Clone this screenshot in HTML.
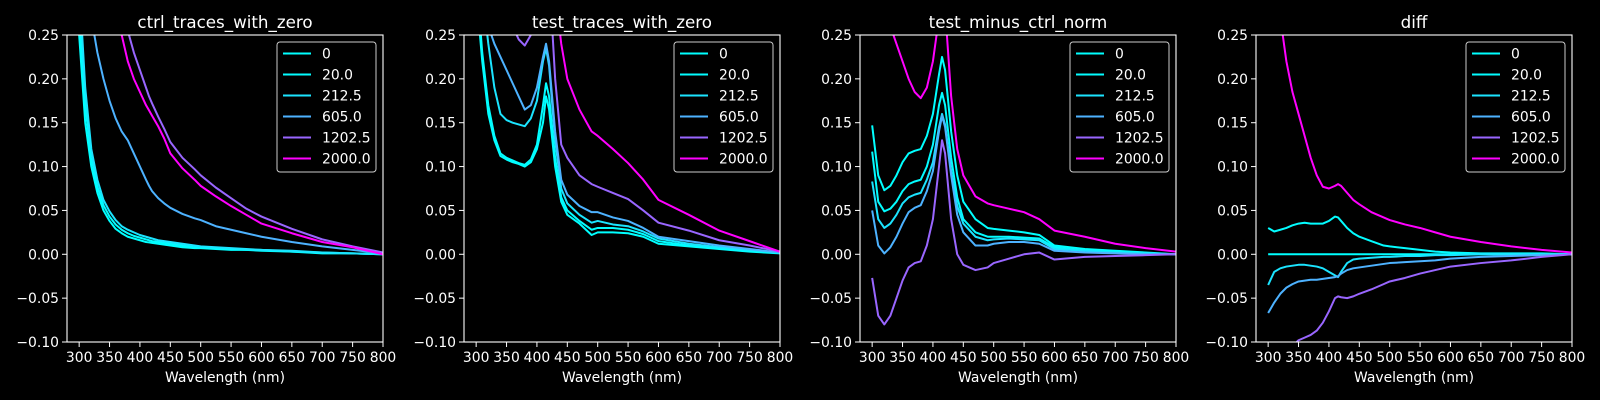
<!DOCTYPE html>
<html><head><meta charset="utf-8"><style>
html,body{margin:0;padding:0;background:#000;}
svg{display:block;font-family:"DejaVu Sans","Liberation Sans",sans-serif;}
</style></head><body>
<svg id="fig" width="1600" height="400" viewBox="0 0 1600 400" xmlns="http://www.w3.org/2000/svg">
<rect width="1600" height="400" fill="#000"/>
</svg>
<script>
const wavelengths=[300,310,320,330,340,350,360,370,380,390,400,410,415,420,430,440,450,470,490,500,525,550,575,600,650,700,750,800];
const seriesLabels=["0","20.0","212.5","605.0","1202.5","2000.0"];
const seriesColors=["#00ffff","#03fcff","#1be4ff","#4db2ff","#9966ff","#ff00ff"];
const panelTitles=["ctrl_traces_with_zero","test_traces_with_zero","test_minus_ctrl_norm","diff"];
const yTicks=[0.25,0.20,0.15,0.10,0.05,0.00,-0.05,-0.10];
const xTicks=[300,350,400,450,500,550,600,650,700,750,800];

const ctrl0=[.25,.15,.10,.07,.05,.038,.029,.024,.02,.018,.016,.014,.0135,.013,.012,.011,.01,.008,.007,.007,.006,.005,.005,.004,.003,.001,.001,0];
const ctrl20=[.28,.17,.11,.077,.056,.043,.034,.028,.024,.021,.019,.017,.016,.015,.014,.013,.012,.01,.008,.008,.007,.006,.005,.005,.003,.002,.001,0];
const ctrl212=[.31,.19,.12,.085,.062,.049,.039,.032,.028,.025,.022,.02,.019,.018,.016,.015,.014,.012,.01,.009,.008,.007,.006,.005,.004,.002,.001,0];
const ctrl605=[.45,.34,.27,.23,.20,.175,.155,.14,.13,.115,.10,.085,.078,.072,.064,.058,.053,.046,.041,.039,.032,.028,.024,.02,.014,.009,.005,.001];
const ctrl1202=[.6,.55,.5,.45,.4,.35,.31,.28,.255,.23,.21,.19,.18,.172,.157,.143,.128,.11,.097,.09,.076,.064,.052,.043,.029,.017,.009,.002];
const ctrl2000=[.6,.5,.45,.4,.35,.31,.28,.25,.22,.2,.185,.17,.164,.158,.146,.132,.115,.098,.085,.078,.066,.055,.045,.035,.024,.014,.008,0];

const test0=[.30,.22,.16,.13,.112,.108,.105,.103,.1,.105,.12,.15,.18,.165,.1,.06,.045,.035,.022,.025,.025,.024,.02,.012,.009,.006,.003,.001];
const test20=[.32,.23,.17,.135,.115,.11,.107,.104,.102,.108,.125,.17,.195,.18,.11,.065,.05,.038,.028,.03,.03,.028,.023,.015,.01,.007,.004,.002];
const test212=[.4,.3,.24,.19,.16,.153,.15,.148,.146,.155,.175,.22,.235,.215,.13,.075,.058,.045,.036,.038,.034,.032,.026,.018,.012,.008,.005,.002];
const test605=[.45,.35,.26,.24,.225,.21,.195,.18,.165,.17,.19,.225,.24,.22,.14,.085,.068,.055,.048,.048,.042,.038,.03,.02,.015,.01,.006,.002];
const test1202=[.7,.6,.5,.42,.36,.3,.26,.245,.238,.25,.28,.33,.35,.32,.2,.125,.11,.09,.08,.077,.07,.063,.05,.036,.027,.016,.01,.003];
const test2000=[.8,.75,.7,.65,.6,.55,.5,.48,.46,.45,.45,.45,.45,.4,.3,.24,.2,.165,.14,.135,.12,.104,.085,.062,.045,.027,.015,.003];

const norm0=[.083,.04,.03,.035,.045,.058,.065,.068,.07,.085,.105,.145,.16,.148,.095,.055,.035,.02,.016,.017,.018,.017,.016,.006,.004,.002,.001,0];
const norm20=[.117,.06,.049,.052,.06,.072,.08,.083,.085,.1,.125,.17,.184,.17,.11,.065,.04,.025,.02,.02,.02,.019,.018,.008,.004,.003,.001,0];
const norm212=[.147,.09,.073,.078,.09,.105,.115,.118,.12,.135,.16,.205,.225,.21,.14,.09,.06,.04,.03,.029,.027,.025,.022,.01,.006,.004,.002,0];
const norm605=[.05,.01,.001,.008,.02,.035,.048,.053,.056,.072,.095,.14,.158,.145,.09,.045,.025,.01,.01,.012,.014,.014,.012,.004,.002,.001,0,0];
const norm1202=[-.027,-.07,-.08,-.07,-.05,-.03,-.015,-.01,-.008,.01,.04,.1,.13,.115,.04,0,-.012,-.018,-.015,-.01,-.005,0,.002,-.006,-.003,-.002,-.001,0];
const norm2000=[.33,.3,.28,.26,.24,.22,.2,.185,.178,.19,.22,.27,.3,.28,.18,.12,.09,.066,.058,.056,.052,.048,.04,.027,.02,.012,.007,.003];

const diff0=[0,0,0,0,0,0,0,0,0,0,0,0,0,0,0,0,0,0,0,0,0,0,0,0,0,0,0,0];
const diff20=[.03,.026,.028,.03,.033,.035,.036,.035,.035,.035,.038,.043,.042,.038,.03,.024,.02,.015,.01,.009,.007,.005,.003,.002,.001,.001,.001,0];
const diff212=[-.035,-.02,-.016,-.014,-.013,-.012,-.012,-.013,-.014,-.016,-.02,-.024,-.026,-.02,-.01,-.006,-.005,-.004,-.003,-.003,-.002,-.002,-.001,-.001,0,0,0,0];
const diff605=[-.067,-.055,-.045,-.038,-.034,-.031,-.03,-.029,-.029,-.028,-.027,-.026,-.025,-.022,-.018,-.016,-.015,-.013,-.011,-.01,-.009,-.008,-.007,-.005,-.003,-.002,-.001,0];
const diff1202=[-.16,-.14,-.125,-.115,-.105,-.098,-.095,-.092,-.087,-.078,-.065,-.05,-.048,-.049,-.05,-.048,-.045,-.04,-.034,-.031,-.027,-.022,-.018,-.014,-.01,-.007,-.003,0];
const diff2000=[.33,.3,.27,.22,.185,.16,.135,.11,.09,.077,.075,.078,.08,.078,.07,.062,.057,.048,.042,.039,.034,.03,.025,.02,.014,.009,.005,.002];

const panelSeries=[
 [ctrl0,ctrl20,ctrl212,ctrl605,ctrl1202,ctrl2000],
 [test0,test20,test212,test605,test1202,test2000],
 [norm212,norm20,norm0,norm605,norm1202,norm2000],
 [diff0,diff20,diff212,diff605,diff1202,diff2000]
];

const NS="http://www.w3.org/2000/svg";
const svg=document.getElementById('fig');
const panelLefts=[67,464,860,1256];
const PW=316, TOP=35, BOT=342;
const XMIN=280, XMAX=800, YMIN=-0.10, YMAX=0.25;
function mk(tag,attrs,parent){const e=document.createElementNS(NS,tag);for(const k in attrs)e.setAttribute(k,attrs[k]);(parent||svg).appendChild(e);return e;}
const defs=mk('defs',{});

panelTitles.forEach((title,p)=>{
  const L=panelLefts[p];
  const xs=v=>L+(v-XMIN)/(XMAX-XMIN)*PW;
  const ys=v=>BOT-(v-YMIN)/(YMAX-YMIN)*(BOT-TOP);
  const g=mk('g',{});
  
  
  const cp=mk('clipPath',{id:'clip'+p},defs);
  mk('rect',{x:L,y:TOP,width:PW,height:BOT-TOP},cp);
  // title
  const t=mk('text',{x:L+PW/2,y:28,'text-anchor':'middle','font-size':'16.7',fill:'#fff'},g);
  t.textContent=title;
  
  
  // series
  const sg=mk('g',{'clip-path':'url(#clip'+p+')'},g);
  panelSeries[p].forEach((vals,i)=>{
    const d=vals.map((v,k)=>(k?'L':'M')+xs(wavelengths[k]).toFixed(2)+','+ys(v).toFixed(2)).join('');
    const path=mk('path',{d:d,fill:'none',stroke:seriesColors[i],'stroke-width':'2','stroke-linejoin':'round'},sg);
    
    
  });
  // spines
  const fr=mk('rect',{x:L,y:TOP,width:PW,height:BOT-TOP,fill:'none',stroke:'#fff','stroke-width':'1.1'},g);
  
  
  // y ticks
  yTicks.forEach(v=>{
    const y=ys(v);
    mk('line',{x1:L-5,x2:L,y1:y,y2:y,stroke:'#fff','stroke-width':'1'},g);
    const tl=mk('text',{x:L-8,y:y+5,'text-anchor':'end','font-size':'13.9',fill:'#fff'},g);
    tl.textContent=(v<0?'\u2212':'')+Math.abs(v).toFixed(2);
    
    
  });
  xTicks.forEach(v=>{
    const x=xs(v);
    mk('line',{x1:x,x2:x,y1:BOT,y2:BOT+5,stroke:'#fff','stroke-width':'1'},g);
    const tl=mk('text',{x:x,y:362,'text-anchor':'middle','font-size':'13.9',fill:'#fff'},g);
    tl.textContent=String(v);
    
    
  });
  const xl=mk('text',{x:L+PW/2,y:382,'text-anchor':'middle','font-size':'13.9',fill:'#fff'},g);
  xl.textContent='Wavelength (nm)';
  
  
  // legend
  const lg=mk('g',{},g);
  
  
  const bx=L+PW-106;
  mk('rect',{x:bx,y:42,width:99,height:130,rx:3,fill:'#000','fill-opacity':'0.8',stroke:'#cccccc','stroke-width':'1'},lg);
  seriesLabels.forEach((lab,i)=>{
    const y=53.5+i*21;
    const ent=mk('g',{},lg);
    
    
    mk('line',{x1:bx+6,x2:bx+34,y1:y,y2:y,stroke:seriesColors[i],'stroke-width':'2'},ent);
    const tx=mk('text',{x:bx+45,y:y+5,'font-size':'13.9',fill:'#fff'},ent);
    tx.textContent=lab;
  });
});
</script>
</body></html>
